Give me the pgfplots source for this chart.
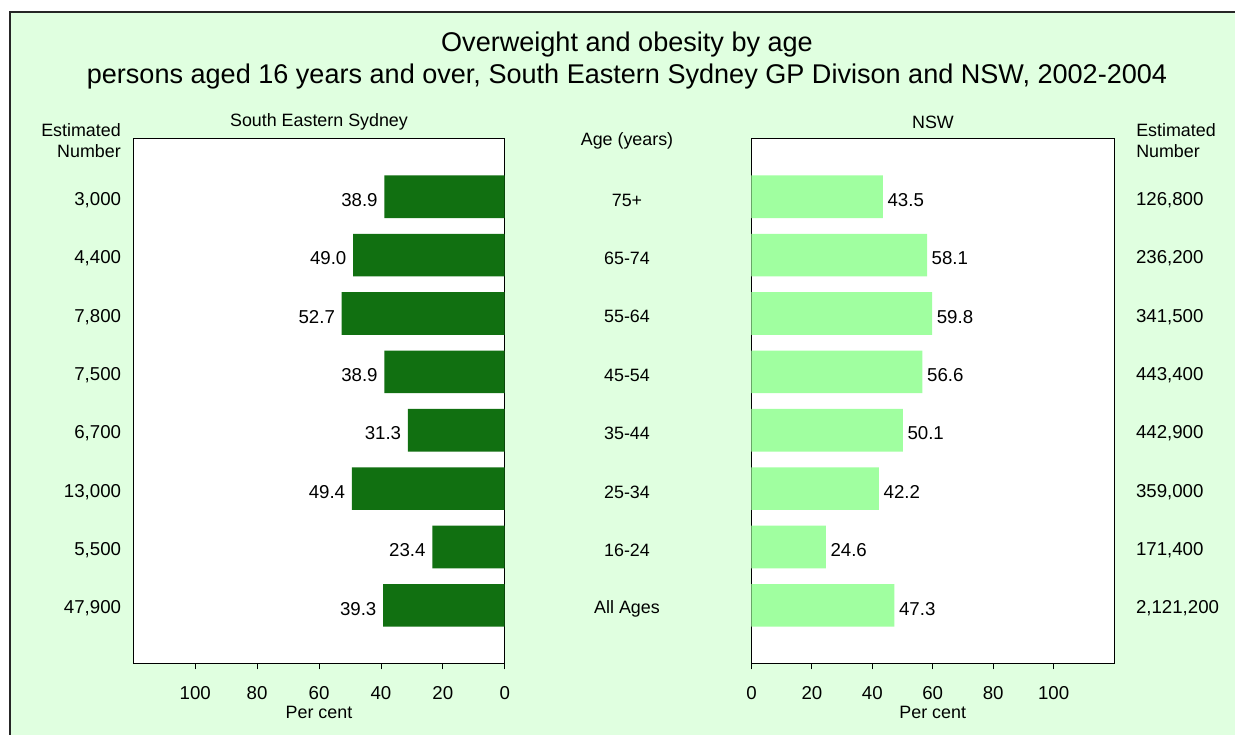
\documentclass[border=0pt]{standalone}
\usepackage{pgfplots}
\pgfplotsset{compat=1.18}
\usepackage{fontspec}
\setmainfont{Liberation Sans}

\definecolor{bgc}{HTML}{E0FFE0}
\definecolor{sesc}{HTML}{117011}
\definecolor{nswc}{HTML}{A0FFA0}

\newcommand\smallfnt{\fontsize{13.4}{15.75}\selectfont}
\newcommand\numfnt{\fontsize{14}{16}\selectfont}
\newcommand\titlefnt{\fontsize{20.3}{24}\selectfont}

% 0 = All Ages ... 7 = 75+
\pgfplotstableread{
y  ses   nsw
0  39.3  47.3
1  23.4  24.6
2  49.4  42.2
3  31.3  50.1
4  38.9  56.6
5  52.7  59.8
6  49.0  58.1
7  38.9  43.5
}\agedata

\pgfplotsset{
  panel/.style={
    scale only axis,
    height=394pt,
    xbar, bar width=0.73,
    xmin=0, xmax=120, ymin=-1, ymax=8,
    xtick={0,20,...,100}, ytick={0,...,7},
    xtick pos=bottom,
    tick align=outside,
    major tick length=4.3pt,
    ytick style={draw=none},
    xtick style={black, semithick},
    axis line style={black, semithick},
    axis background/.style={fill=white},
    font=\numfnt,
    /pgf/number format/assume math mode=true,
    xticklabel style={yshift=-9pt},
    xlabel={Per cent},
    xlabel style={yshift=2pt, font=\smallfnt},
    point meta=x,
    nodes near coords={\pgfmathprintnumber[fixed,fixed zerofill,precision=1]{\pgfplotspointmeta}},
    clip=false,
  }
}

\begin{document}
\begin{tikzpicture}
\fill[white] (0,0) rectangle (926.25pt,551.25pt);
\useasboundingbox (0,0) rectangle (926.25pt,551.25pt);

\begin{scope}[x=0.75pt,y=-0.75pt,yshift=551.25pt]
  \fill[bgc] (10,12) rectangle (1235,735);
  \draw[line width=1.1pt, black!85] (10,735) -- (10,12) -- (1235,12);
  \node[font=\titlefnt] at (627,45) {Overweight and obesity by age};
  \node[font=\titlefnt] at (627,77) {persons aged 16 years and over, South Eastern Sydney GP Divison and NSW, 2002-2004};
  \node[font=\smallfnt] at (319,122) {South Eastern Sydney};
  \node[font=\smallfnt] at (933,122) {NSW};
  \node[font=\smallfnt, align=right, anchor=east, inner sep=0pt] at (121,141) {Estimated\\Number};
  \node[font=\smallfnt, align=left, anchor=west, inner sep=0pt] at (1136,141) {Estimated\\Number};
  \node[font=\smallfnt] at (627,141) {Age (years)};
\end{scope}

\begin{axis}[panel,
  at={(99.98pt,53.48pt)}, anchor=south west,
  width=278.55pt,
  x dir=reverse,
  yticklabels={{47,900},{5,500},{13,000},{6,700},{7,500},{7,800},{4,400},{3,000}},
  yticklabel style={anchor=east, inner sep=0pt, xshift=-4.7pt, yshift=-2.5pt},
  every node near coord/.append style={anchor=east, black, xshift=-1.5pt, yshift=-2.5pt},
]
\addplot[fill=sesc, draw=none] table[x=ses, y=y] {\agedata};
\end{axis}

\begin{axis}[panel,
  at={(563.6pt,53.48pt)}, anchor=south west,
  width=271.9pt,
  yticklabel pos=right,
  yticklabels={{2,121,200},{171,400},{359,000},{442,900},{443,400},{341,500},{236,200},{126,800}},
  yticklabel style={anchor=west, inner sep=0pt, xshift=12pt, yshift=-2.5pt},
  every node near coord/.append style={anchor=west, black, yshift=-2.5pt},
]
\addplot[fill=nswc, draw=none] table[x=nsw, y=y] {\agedata};
\foreach \lab [count=\i from 0] in {All Ages,16-24,25-34,35-44,45-54,55-64,65-74,75+} {
  \edef\tmp{\noexpand\node[font=\noexpand\smallfnt, yshift=-2.5pt] at (axis cs:-41.2,\i) {\lab};}
  \tmp
}
\end{axis}
\end{tikzpicture}
\end{document}
